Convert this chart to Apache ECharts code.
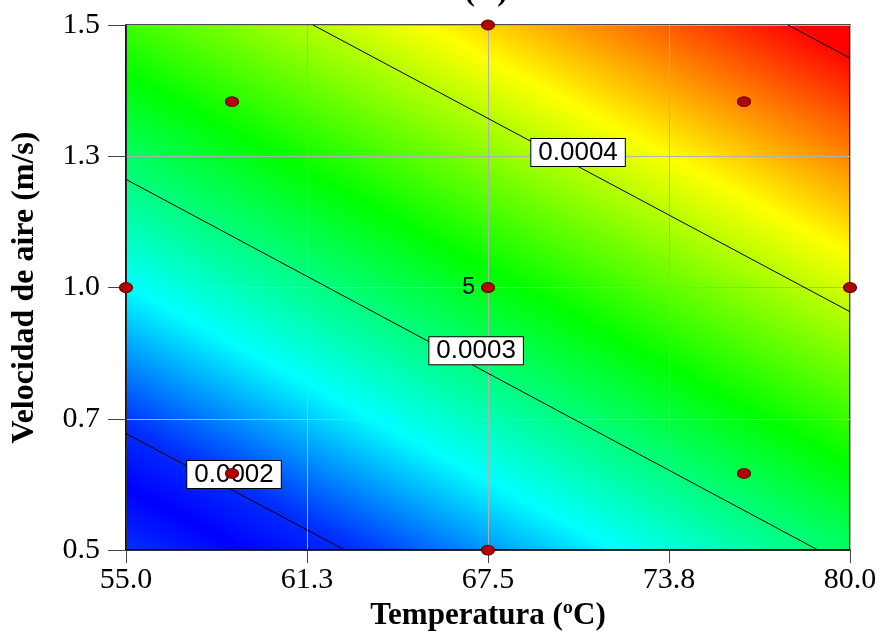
<!DOCTYPE html>
<html>
<head>
<meta charset="utf-8">
<script src="https://cdn.jsdelivr.net/npm/echarts@6/dist/echarts.min.js"></script>
<style>
html,body{margin:0;padding:0;background:#fff;}
#chart{width:884px;height:636px;}
</style>
</head>
<body>
<div id="chart"></div>
<script>
// ---- data ----
const xTicks = [55.0, 61.25, 67.5, 73.75, 80.0];
const xTickLabels = ['55.0', '61.3', '67.5', '73.8', '80.0'];
const yTicks = [0.5, 0.75, 1.0, 1.25, 1.5];
const yTickLabels = ['0.5', '0.7', '1.0', '1.3', '1.5'];

// design points (central composite design)
const designX = [58.66, 76.34, 58.66, 76.34, 55.0, 80.0, 67.5, 67.5, 67.5];
const designY = [1.354, 1.354, 0.646, 0.646, 1.0, 1.0, 0.5, 1.5, 1.0];
const replicates = [1, 1, 1, 1, 1, 1, 1, 1, 5];

// contour lines (endpoints where they cross the plot border)
const contourLevels = ['0.0002', '0.0003', '0.0004', '0.0005'];
const contourX = [[55.0, 62.56], [55.0, 78.9], [61.46, 80.0], [77.86, 80.0]];
const contourY = [[0.722, 0.5], [1.206, 0.5], [1.5, 0.954], [1.5, 1.437]];

// contour labels
const contourLabelText = ['0.0002', '0.0003', '0.0004'];
const contourLabelX = [58.73, 67.09, 70.61];
const contourLabelY = [0.644, 0.8795, 1.257];

// ---- chart ----
const chart = echarts.init(document.getElementById('chart'));

const fill = new echarts.graphic.LinearGradient(0, 1, 0.528, -0.349, [
  {offset: 0.00, color: '#0030ff'},
  {offset: 0.07, color: '#0000ff'},
  {offset: 0.14, color: '#0030ff'},
  {offset: 0.29, color: '#00ffff'},
  {offset: 0.52, color: '#00ff00'},
  {offset: 0.75, color: '#ffff00'},
  {offset: 0.97, color: '#ff0000'},
  {offset: 1.00, color: '#ff0000'}
]);

const serif = '"Liberation Serif", "Times New Roman", serif';
const sans = '"Liberation Sans", Arial, sans-serif';

const contourSeries = contourLevels.map((lvl, i) => ({
  name: 'contour ' + lvl,
  type: 'line',
  data: contourX[i].map((x, j) => [x, contourY[i][j]]),
  symbol: 'none',
  silent: true,
  animation: false,
  z: 2,
  lineStyle: {color: '#000', width: 1}
}));

const option = {
  animation: false,
  backgroundColor: '#fff',
  grid: {
    left: 126, right: 34, top: 25, bottom: 84,
    show: true,
    backgroundColor: fill,
    borderColor: '#111',
    borderWidth: 1.5
  },
  graphic: [{
    type: 'text',
    x: 486, y: 7,
    style: {
      text: '(A)',
      font: 'bold 31px ' + serif,
      fill: '#000',
      align: 'center',
      verticalAlign: 'bottom'
    }
  }],
  xAxis: {
    type: 'value',
    min: 55, max: 80,
    name: 'Temperatura (ºC)',
    nameLocation: 'middle',
    nameGap: 42,
    nameTextStyle: {fontFamily: serif, fontWeight: 'bold', fontSize: 31, color: '#000'},
    axisLine: {show: true, onZero: false, lineStyle: {color: '#000', width: 1.5}},
    axisTick: {show: true, customValues: xTicks, length: 13, lineStyle: {color: '#444', width: 1}},
    axisLabel: {
      customValues: xTicks,
      formatter: v => xTickLabels[xTicks.indexOf(v)],
      fontFamily: serif, fontSize: 30, color: '#000', margin: 15
    },
    splitLine: {show: true, lineStyle: {color: '#b0b0b0', width: 1}}
  },
  yAxis: {
    type: 'value',
    min: 0.5, max: 1.5,
    name: 'Velocidad de aire (m/s)',
    nameLocation: 'middle',
    nameGap: 85,
    nameTextStyle: {fontFamily: serif, fontWeight: 'bold', fontSize: 32, color: '#000'},
    axisLine: {show: true, onZero: false, lineStyle: {color: '#000', width: 1.5}},
    axisTick: {show: true, customValues: yTicks, length: 18, lineStyle: {color: '#444', width: 1}},
    axisLabel: {
      customValues: yTicks,
      formatter: v => yTickLabels[yTicks.indexOf(v)],
      fontFamily: serif, fontSize: 30, color: '#000', margin: 26
    },
    splitLine: {show: true, lineStyle: {color: '#b0b0b0', width: 1}}
  },
  series: [
    ...contourSeries,
    {
      name: 'contour labels',
      type: 'scatter',
      z: 3,
      silent: true,
      symbol: 'rect',
      symbolSize: 1,
      itemStyle: {color: 'rgba(0,0,0,0)', opacity: 1},
      data: contourLabelText.map((t, i) => ({value: [contourLabelX[i], contourLabelY[i]], name: t})),
      label: {
        show: true,
        position: 'inside',
        formatter: p => p.name,
        fontFamily: sans, fontSize: 26, color: '#000',
        backgroundColor: '#ffffff',
        borderColor: '#000', borderWidth: 1,
        padding: [1, 7, 0, 7]
      }
    },
    {
      name: 'design points',
      type: 'scatter',
      z: 4,
      symbol: 'circle',
      symbolSize: [13, 10],
      itemStyle: {color: '#b30000', borderColor: '#5a0000', borderWidth: 1, opacity: 1},
      data: designX.map((x, i) => ({
        value: [x, designY[i]],
        label: replicates[i] > 1 ? {
          show: true, position: 'left', distance: 6,
          formatter: String(replicates[i]),
          fontFamily: sans, fontSize: 23, color: '#000'
        } : {show: false}
      }))
    }
  ]
};

chart.setOption(option);
</script>
</body>
</html>
